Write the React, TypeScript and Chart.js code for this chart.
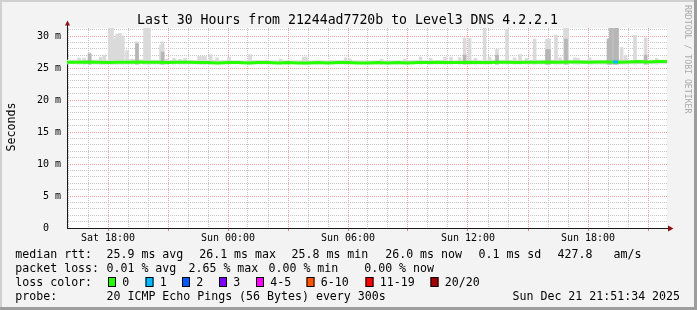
import { useEffect, useRef } from "react";
import { Chart, registerables } from "chart.js";

Chart.register(...registerables);

const MONO = "'DejaVu Sans Mono', 'Liberation Mono', monospace";

// ---------- texts ----------
const TITLE = "Last 30 Hours from 21244ad7720b to Level3 DNS 4.2.2.1";
const Y_TITLE = "Seconds";
const WATERMARK = "RRDTOOL / TOBI OETIKER";
const PROBE = "20 ICMP Echo Pings (56 Bytes) every 300s";
const TIMESTAMP = "Sun Dec 21 21:51:34 2025";

// ---------- axes: x = hours since Sat 00:00, y = milliseconds ----------
const X_RANGE = [15.95, 45.95];
const Y_RANGE = [0, 31.25];
const xHourTicks = [16, 17, 18, 19, 20, 21, 22, 23, 24, 25, 26, 27, 28, 29, 30, 31, 32, 33, 34, 35, 36, 37, 38, 39, 40, 41, 42, 43, 44, 45];
const xLabelHours = [18, 24, 30, 36, 42];
const xLabelTexts = ["Sat 18:00", "Sun 00:00", "Sun 06:00", "Sun 12:00", "Sun 18:00"];
const yMsTicks = [0, 1, 2, 3, 4, 5, 6, 7, 8, 9, 10, 11, 12, 13, 14, 15, 16, 17, 18, 19, 20, 21, 22, 23, 24, 25, 26, 27, 28, 29, 30, 31];
const yLabelMs = [0, 5, 10, 15, 20, 25, 30];
const yLabelTexts = ["0  ", "5 m", "10 m", "15 m", "20 m", "25 m", "30 m"];

// ---------- median rtt (ms) ----------
const medianHours = [
  15.95, 16.5, 17, 17.5, 18, 18.5, 19, 19.5, 20, 20.5,
  21, 21.5, 22, 22.5, 23, 23.5, 24, 24.5, 25, 25.5,
  26, 26.5, 27, 27.5, 28, 28.5, 29, 29.5, 30, 30.5,
  31, 31.5, 32, 32.5, 33, 33.5, 34, 34.5, 35, 35.5,
  36, 36.5, 37, 37.5, 38, 38.5, 39, 39.5, 40, 40.5,
  41, 41.5, 42, 42.5, 43, 43.5, 44, 44.5, 45, 45.5, 45.95,
];
const medianRtt = [
  25.9, 25.9, 25.95, 25.9, 25.85, 25.9, 25.9, 25.95, 25.9, 25.9,
  25.85, 25.9, 25.9, 25.85, 25.85, 25.8, 25.85, 25.85, 25.8, 25.85,
  25.85, 25.8, 25.85, 25.8, 25.8, 25.85, 25.8, 25.85, 25.85, 25.8,
  25.8, 25.85, 25.8, 25.85, 25.8, 25.85, 25.85, 25.9, 25.85, 25.85,
  25.9, 25.85, 25.85, 25.9, 25.9, 25.85, 25.9, 25.9, 25.95, 25.9,
  25.95, 25.95, 25.9, 25.95, 25.95, 25.9, 25.95, 26.0, 25.95, 26.0, 26.0,
];

// packet-loss coloured stretch of the median line (loss = 1)
const lossHours = [43.25, 43.5];
const lossRtt = [25.95, 25.95];

// ---------- smoke ----------
const SMOKE_FLOOR = 25.6;
const bandHours = [15.95, 17, 18, 19, 20, 21, 22, 23, 24, 25, 26, 27, 28, 29, 30, 31, 32, 33, 34, 35, 36, 37, 38, 39, 40, 41, 42, 43, 44, 45, 45.95];
const bandHigh = [26.3, 26.3, 26.3, 26.35, 26.3, 26.3, 26.25, 26.25, 26.2, 26.25, 26.2, 26.2, 26.2, 26.25, 26.2, 26.2, 26.2, 26.25, 26.2, 26.2, 26.25, 26.3, 26.25, 26.3, 26.3, 26.3, 26.3, 26.35, 26.3, 26.3, 26.3];
const bandLow = [25.6, 25.55, 25.6, 25.6, 25.55, 25.6, 25.55, 25.55, 25.6, 25.55, 25.55, 25.6, 25.55, 25.55, 25.6, 25.55, 25.55, 25.6, 25.55, 25.6, 25.55, 25.6, 25.6, 25.55, 25.6, 25.6, 25.55, 25.6, 25.6, 25.6, 25.6];

const spikeHours = [
  16.55, 16.8, 17.08, 17.63, 17.82, 18.1, 18.2, 18.35, 18.45, 18.6,
  18.74, 18.95, 19.2, 19.45, 19.85, 19.95, 20.05, 20.65, 20.73, 20.95,
  21.3, 21.6, 21.85, 22.55, 22.7, 22.85, 23.13, 23.45, 24.05, 25.1,
  26.63, 27.78, 27.9, 29.88, 30.1, 31.68, 32.85, 33.63, 34.13, 34.85,
  35.15, 35.58, 35.83, 36.08, 36.38, 36.83, 37.08, 37.45, 37.95, 38.33,
  38.6, 38.93, 39.33, 39.95, 40.05, 40.4, 40.6, 40.85, 40.95, 41.35,
  41.5, 42.08, 43.03, 43.15, 43.35, 43.45, 43.68, 43.88, 44.35, 44.88, 45.43,
];
const spikeTops = [
  26.55, 26.55, 27.35, 26.7, 27.0, 31.3, 31.3, 29.6, 30.3, 30.4,
  30.0, 27.7, 26.4, 29.1, 31.3, 31.3, 31.3, 28.6, 29.1, 26.4,
  26.5, 26.35, 26.5, 26.8, 26.8, 26.8, 27.1, 26.6, 26.7, 27.1,
  26.4, 26.7, 26.7, 26.6, 26.4, 26.4, 26.4, 26.7, 26.5, 26.7,
  26.7, 26.6, 29.7, 29.6, 26.5, 31.3, 26.7, 27.9, 31.0, 26.6,
  27.1, 26.5, 29.5, 29.5, 29.5, 30.1, 26.6, 31.3, 31.3, 26.6,
  26.5, 26.6, 29.5, 31.3, 31.3, 31.3, 28.2, 26.9, 30.1, 29.7, 26.5,
];
const denseHours = [17.08, 19.45, 20.73, 35.83, 37.45, 39.95, 40.05, 40.9, 43.03, 43.15, 43.35, 43.45, 44.88];
const denseTops = [27.2, 28.8, 27.5, 27.0, 27.0, 27.9, 27.9, 29.5, 29.5, 31.3, 31.3, 31.3, 27.0];

// ---------- legend ----------
const rttNames = ["avg", "max", "min", "now"];
const rttValues = [25.9, 26.1, 25.8, 26.0];
const rttSd = 0.1;
const rttAmS = 427.8;
const lossNames = ["avg", "max", "min", "now"];
const lossValues = [0.01, 2.65, 0.0, 0.0];
const lossBuckets = ["0", "1", "2", "3", "4-5", "6-10", "11-19", "20/20"];
const lossColors = ["#26ff00", "#00b8ff", "#0059ff", "#7e00ff", "#ff00ff", "#ff5500", "#ff0000", "#a10000"];

// ---------- styles ----------
const MAJOR = "#f1a0a0";
const MINOR = "#c4c4c4";
const AXIS = "#1a1a1a";
const ARROW = "#8b1010";

const pts = (xs: number[], ys: number[]) => xs.map((x, i) => ({ x, y: ys[i] }));
const bars = (xs: number[], tops: number[]) => xs.map((x, i) => ({ x, y: [SMOKE_FLOOR, tops[i]] }));

const rrdPlugin = {
  id: "rrdDecor",
  beforeDraw(chart: any) {
    const { ctx, width, height, chartArea: a } = chart;
    ctx.save();
    ctx.fillStyle = "#f3f3f3";
    ctx.fillRect(0, 0, width, height);
    ctx.fillStyle = "#d0d0d0";
    ctx.fillRect(0, 0, width, 2);
    ctx.fillRect(0, 0, 2, height);
    ctx.fillStyle = "#9d9d9d";
    ctx.fillRect(width - 3, 0, 3, height);
    ctx.fillRect(0, height - 3, width, 3);
    ctx.fillStyle = "#ffffff";
    ctx.fillRect(a.left, a.top, a.right - a.left, a.bottom - a.top);
    ctx.restore();
  },
  afterDraw(chart: any) {
    const { ctx, chartArea: a } = chart;
    ctx.save();

    // axis arrows
    const ax = Math.round(a.left) + 0.5;
    const ay = Math.round(a.bottom) + 0.5;
    ctx.strokeStyle = AXIS;
    ctx.lineWidth = 1;
    ctx.beginPath();
    ctx.moveTo(ax, a.top);
    ctx.lineTo(ax, 24);
    ctx.moveTo(a.right, ay);
    ctx.lineTo(669, ay);
    ctx.stroke();
    ctx.fillStyle = ARROW;
    ctx.beginPath();
    ctx.moveTo(ax - 2.5, 25.5);
    ctx.lineTo(ax, 20.5);
    ctx.lineTo(ax + 2.5, 25.5);
    ctx.closePath();
    ctx.fill();
    ctx.beginPath();
    ctx.moveTo(668, ay - 3);
    ctx.lineTo(673.5, ay);
    ctx.lineTo(668, ay + 3);
    ctx.closePath();
    ctx.fill();

    // title
    ctx.fillStyle = "#000";
    ctx.textBaseline = "alphabetic";
    ctx.font = `13.2px ${MONO}`;
    ctx.textAlign = "center";
    ctx.fillText(TITLE, 347.5, 24);

    // y title
    ctx.save();
    ctx.font = `11.6px ${MONO}`;
    ctx.translate(15, 127);
    ctx.rotate(-Math.PI / 2);
    ctx.textAlign = "center";
    ctx.fillText(Y_TITLE, 0, 0);
    ctx.restore();

    // watermark
    ctx.save();
    ctx.font = `8.2px ${MONO}`;
    ctx.fillStyle = "#a9a9a9";
    ctx.translate(685, 5);
    ctx.rotate(Math.PI / 2);
    ctx.textAlign = "left";
    ctx.fillText(WATERMARK, 0, 0);
    ctx.restore();

    // legend rows
    ctx.font = `11.6px ${MONO}`;
    ctx.textAlign = "left";
    ctx.fillStyle = "#000";
    const r1 = 258, r2 = 272, r3 = 286, r4 = 300;
    ctx.fillText("median rtt:", 15.3, r1);
    const rttX = [106.5, 199.2, 291.5, 385.2];
    rttValues.forEach((v, i) => ctx.fillText(`${v.toFixed(1)} ms ${rttNames[i]}`, rttX[i], r1));
    ctx.fillText(`${rttSd.toFixed(1)} ms sd`, 478.5, r1);
    ctx.fillText(`${rttAmS.toFixed(1)}   am/s`, 557.6, r1);

    ctx.fillText("packet loss:", 15.3, r2);
    const lossX = [106.5, 188.5, 268.5, 364.2];
    lossValues.forEach((v, i) => ctx.fillText(`${v.toFixed(2)} % ${lossNames[i]}`, lossX[i], r2));

    ctx.fillText("loss color:", 15.3, r3);
    const boxX = [108, 145.5, 182, 219, 256, 306.5, 365.5, 430.5];
    lossBuckets.forEach((b, i) => {
      ctx.fillStyle = lossColors[i];
      ctx.fillRect(boxX[i], 277, 8, 10);
      ctx.strokeStyle = "#000";
      ctx.lineWidth = 1;
      ctx.strokeRect(boxX[i] + 0.5, 277.5, 7, 9);
      ctx.fillStyle = "#000";
      ctx.fillText(b, boxX[i] + 14.3, r3);
    });

    ctx.fillText("probe:", 15.3, r4);
    ctx.fillText(PROBE, 106.5, r4);
    ctx.fillText(TIMESTAMP, 512.5, r4);

    ctx.restore();
  },
};

export default function App() {
  const ref = useRef<HTMLCanvasElement>(null);

  useEffect(() => {
    if (!ref.current) return;
    const chart = new Chart(ref.current, {
      type: "line",
      data: {
        datasets: [
          {
            type: "line",
            label: "loss 1",
            data: pts(lossHours, lossRtt),
            borderColor: lossColors[1],
            borderWidth: 3,
            pointRadius: 0,
            fill: false,
            order: 0,
          },
          {
            type: "line",
            label: "median rtt",
            data: pts(medianHours, medianRtt),
            borderColor: lossColors[0],
            borderWidth: 3,
            pointRadius: 0,
            tension: 0,
            fill: false,
            order: 1,
          },
          {
            type: "bar",
            label: "dense smoke",
            data: bars(denseHours, denseTops) as any,
            backgroundColor: "#b6b6b6",
            borderWidth: 0,
            barThickness: 3,
            grouped: false,
            order: 2,
          },
          {
            type: "bar",
            label: "smoke",
            data: bars(spikeHours, spikeTops) as any,
            backgroundColor: "#dadada",
            borderWidth: 0,
            barThickness: 3,
            grouped: false,
            order: 3,
          },
          {
            type: "line",
            label: "band high",
            data: pts(bandHours, bandHigh),
            borderWidth: 0,
            borderColor: "rgba(0,0,0,0)",
            pointRadius: 0,
            stepped: true,
            fill: false,
            order: 4,
          },
          {
            type: "line",
            label: "band low",
            data: pts(bandHours, bandLow),
            borderWidth: 0,
            borderColor: "rgba(0,0,0,0)",
            backgroundColor: "#dedede",
            pointRadius: 0,
            stepped: true,
            fill: "-1",
            order: 5,
          },
        ] as any,
      },
      options: {
        responsive: false,
        maintainAspectRatio: false,
        devicePixelRatio: 1,
        animation: false,
        events: [],
        layout: { padding: { left: 0, right: 30, top: 28, bottom: 0 } },
        plugins: {
          legend: { display: false },
          tooltip: { enabled: false },
          title: { display: false },
        },
        scales: {
          x: {
            type: "linear",
            min: X_RANGE[0],
            max: X_RANGE[1],
            bounds: "data",
            offset: false,
            afterBuildTicks: (s: any) => {
              s.ticks = xHourTicks.map((v) => ({ value: v }));
            },
            afterFit: (s: any) => {
              s.height = 82;
            },
            grid: {
              offset: false,
              color: (c: any) => (c.tick && c.tick.value % 3 === 0 ? MAJOR : MINOR),
              lineWidth: 1,
              drawTicks: true,
              tickLength: 3,
              tickColor: (c: any) => (c.tick && c.tick.value % 3 === 0 ? "#d88080" : "rgba(0,0,0,0)"),
              borderDash: [1, 1],
            } as any,
            border: { color: AXIS, width: 1, dash: [1, 1] },
            ticks: {
              autoSkip: false,
              maxRotation: 0,
              minRotation: 0,
              padding: 1,
              color: "#000",
              font: { family: MONO, size: 10 },
              callback: (v: any) => {
                const i = xLabelHours.indexOf(Number(v));
                return i >= 0 ? xLabelTexts[i] : "";
              },
            },
          },
          y: {
            type: "linear",
            min: Y_RANGE[0],
            max: Y_RANGE[1],
            bounds: "data",
            afterBuildTicks: (s: any) => {
              s.ticks = yMsTicks.map((v) => ({ value: v }));
            },
            afterFit: (s: any) => {
              s.width = 67;
            },
            grid: {
              color: (c: any) => (c.tick && c.tick.value % 5 === 0 ? MAJOR : MINOR),
              lineWidth: 1,
              drawTicks: false,
              borderDash: [1, 1],
            } as any,
            border: { color: AXIS, width: 1, dash: [1, 1] },
            ticks: {
              autoSkip: false,
              padding: 6,
              color: "#000",
              font: { family: MONO, size: 10 },
              callback: (v: any) => {
                const i = yLabelMs.indexOf(Number(v));
                return i >= 0 ? yLabelTexts[i] : "";
              },
            },
          },
        },
      },
      plugins: [rrdPlugin],
    });
    return () => chart.destroy();
  }, []);

  return (
    <div style={{ position: "fixed", left: 0, top: 0, width: 697, height: 310 }}>
      <canvas ref={ref} width={697} height={310} style={{ display: "block", width: 697, height: 310 }} />
    </div>
  );
}
